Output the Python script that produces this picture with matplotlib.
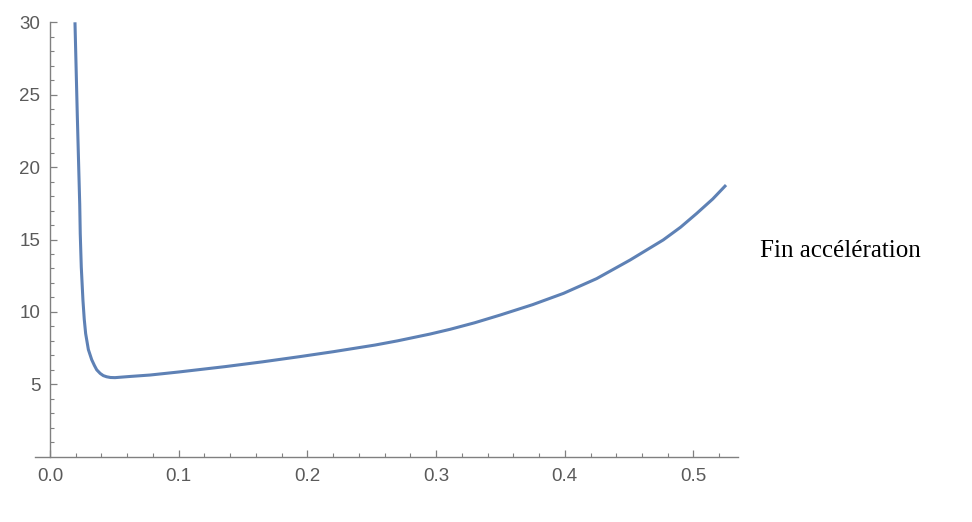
import matplotlib
matplotlib.use("Agg")
import matplotlib.pyplot as plt
import numpy as np

# Curve values
x_vals = [0.0194, 0.0212, 0.0231, 0.0235, 0.0243, 0.0256, 0.0266, 0.0277, 0.0298,
          0.0324, 0.0345, 0.0363, 0.0390, 0.0414, 0.0440, 0.0470, 0.0505, 0.0620,
          0.0777, 0.100, 0.136, 0.165, 0.194, 0.220, 0.2525, 0.270, 0.2953, 0.311,
          0.330, 0.3497, 0.375, 0.399, 0.4248, 0.4507, 0.4765, 0.490, 0.5025,
          0.515, 0.5253]
y_vals = [30.0, 23.6, 17.4, 15.4, 13.1, 10.8, 9.5, 8.5, 7.4,
          6.7, 6.3, 6.0, 5.75, 5.60, 5.52, 5.47, 5.46, 5.54,
          5.64, 5.85, 6.22, 6.55, 6.91, 7.25, 7.71, 8.00, 8.47, 8.80,
          9.25, 9.78, 10.50, 11.28, 12.3, 13.58, 14.97, 15.85, 16.8,
          17.8, 18.76]

x_major = [0.0, 0.1, 0.2, 0.3, 0.4, 0.5]
x_labels = ["0.0", "0.1", "0.2", "0.3", "0.4", "0.5"]
y_major = [5, 10, 15, 20, 25, 30]
y_labels = ["5", "10", "15", "20", "25", "30"]
x_minor = [0.02, 0.04, 0.06, 0.08, 0.12, 0.14, 0.16, 0.18, 0.22, 0.24, 0.26, 0.28,
           0.32, 0.34, 0.36, 0.38, 0.42, 0.44, 0.46, 0.48, 0.52]
y_minor = [1, 2, 3, 4, 6, 7, 8, 9, 11, 12, 13, 14, 16, 17, 18, 19, 21, 22, 23, 24,
           26, 27, 28, 29]

annotation = "Fin accélération"

fig = plt.figure(figsize=(9.72, 5.22), dpi=100)
left_px, right_px = 35, 738
bot_px, top_px = 456.7, 22.3
ax = fig.add_axes([left_px / 972, (522 - bot_px) / 522,
                   (right_px - left_px) / 972, (bot_px - top_px) / 522])

ax.plot(x_vals, y_vals, color="#5E81B5", lw=2.2, solid_capstyle="butt",
        solid_joinstyle="round", clip_on=False)

ax.set_xlim(-0.01166, 0.5346)
ax.set_ylim(0, 30)

axis_col = "#808080"
label_col = "#5a5a5a"
for s in ["top", "right"]:
    ax.spines[s].set_visible(False)
ax.spines["left"].set_position(("data", 0))
ax.spines["left"].set_color(axis_col)
ax.spines["bottom"].set_color(axis_col)
ax.spines["left"].set_linewidth(1.0)
ax.spines["bottom"].set_linewidth(1.0)

ax.set_xticks(x_major)
ax.set_xticklabels(x_labels)
ax.set_xticks(x_minor, minor=True)
ax.set_yticks(y_major)
ax.set_yticklabels(y_labels)
ax.set_yticks(y_minor, minor=True)

ax.tick_params(axis="both", which="major", direction="in", length=5.2, width=0.9,
               color=axis_col, labelcolor=label_col, labelsize=13.5,
               labelfontfamily="Liberation Sans")
ax.tick_params(axis="both", which="minor", direction="in", length=2.6, width=0.8,
               color=axis_col)
ax.tick_params(axis="x", which="major", pad=8)
ax.tick_params(axis="y", which="major", pad=7)

fig.text(760 / 972, 1 - 257.3 / 522, annotation, family="Liberation Serif",
         fontsize=18, color="black", ha="left", va="baseline")

fig.savefig("out.png", dpi=100, facecolor="white")
